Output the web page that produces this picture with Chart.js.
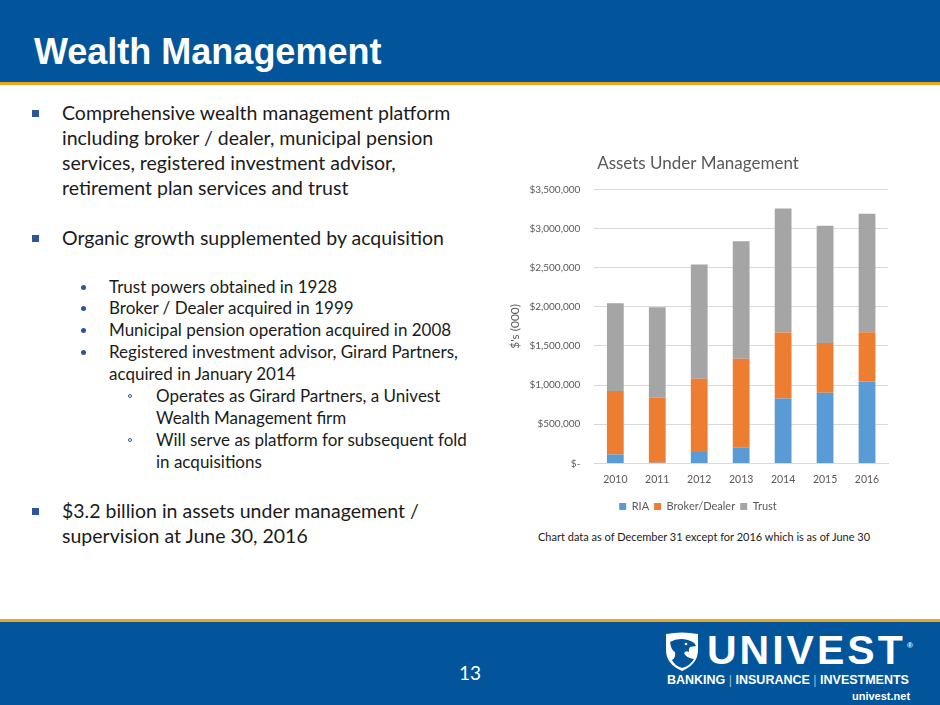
<!DOCTYPE html>
<html>
<head>
<meta charset="utf-8">
<script src="https://cdn.jsdelivr.net/npm/chart.js@4.4.1/dist/chart.umd.min.js"></script>
<style>
  html,body{margin:0;padding:0;}
  body{width:940px;height:705px;position:relative;overflow:hidden;background:#fff;font-family:Lato,"Open Sans",sans-serif;}
  .hdr{position:absolute;left:0;top:0;width:940px;height:82px;background:#02559A;}
  .hdrline{position:absolute;left:0;top:82px;width:940px;height:3px;background:#EBA81C;}
  .ftrline{position:absolute;left:0;top:619px;width:940px;height:3px;background:#EBA81C;}
  .ftr{position:absolute;left:0;top:622px;width:940px;height:83px;background:#02559A;}
  .title{position:absolute;left:34px;top:30px;color:#fff;font-family:"Liberation Sans",Arial,sans-serif;font-weight:bold;font-size:36px;line-height:44px;white-space:nowrap;}
  .ln{position:absolute;white-space:nowrap;color:#1b1b1b;}
  .l1{font-size:19.5px;line-height:26px;}
  .l2{font-size:17px;line-height:22px;}
  .sq{position:absolute;width:7px;height:7px;background:#2F5597;}
  .dot{position:absolute;width:5px;height:5px;border-radius:50%;background:#2F5597;}
  .cir{position:absolute;width:4px;height:4px;border-radius:50%;border:1px solid #2F5597;box-sizing:border-box;}
  .pg{position:absolute;left:450px;top:659px;width:40px;text-align:center;color:#fff;font-size:19px;line-height:28px;}
  .note{position:absolute;left:538px;top:529px;font-size:11px;line-height:16px;color:#1b1b1b;white-space:nowrap;}
  #wrap{position:absolute;left:505px;top:140px;width:390px;height:382px;}
  .logo{position:absolute;color:#fff;font-family:"Liberation Sans",Arial,sans-serif;font-weight:bold;white-space:nowrap;}
</style>
</head>
<body>
<div class="hdr"></div>
<div class="hdrline"></div>
<div class="title">Wealth Management</div>

<div id="body"></div>

<div id="wrap"><canvas id="c"></canvas></div>
<div class="note">Chart data as of December 31 except for 2016 which is as of June 30</div>

<div class="ftrline"></div>
<div class="ftr"></div>
<div class="pg">13</div>

<svg style="position:absolute;left:664px;top:632px" width="36" height="40" viewBox="0 0 36 40">
  <path d="M2 2 Q18 -1 34 2 L34 18 Q34 32 18 39 Q2 32 2 18 Z" fill="#fff"/>
  <path d="M6 10 Q14 5 24 8 Q31 10 32 14 L26 15 Q24 17 25 20 Q22 18 20 21 Q22 26 30 27 Q26 34 18 36 Q10 33 8 28 Q12 26 11 20 Q7 18 6 10 Z" fill="#02559A"/>
  <circle cx="22" cy="12" r="1.3" fill="#fff"/>
</svg>
<div class="logo" style="left:707px;top:627px;font-size:41px;line-height:46px;letter-spacing:3px;">UNIVEST</div>
<div class="logo" style="left:907px;top:641px;font-size:8px;line-height:10px;">®</div>
<div class="logo" style="left:667px;top:672px;font-size:12.5px;line-height:16px;">BANKING <span style="font-weight:normal;color:#9fb8d6">|</span> INSURANCE <span style="font-weight:normal;color:#9fb8d6">|</span> INVESTMENTS</div>
<div class="logo" style="left:852px;top:689px;font-size:11px;line-height:14px;">univest.net</div>

<script>
// ---- slide text ----
const level1 = [
  {y:113, t:"Comprehensive wealth management platform", b:true},
  {y:138, t:"including broker / dealer, municipal pension"},
  {y:163, t:"services, registered investment advisor,"},
  {y:188, t:"retirement plan services and trust"},
  {y:238, t:"Organic growth supplemented by acquisition", b:true},
  {y:511, t:"$3.2 billion in assets under management /", b:true},
  {y:536, t:"supervision at June 30, 2016"}
];
const level2 = [
  {y:287, t:"Trust powers obtained in 1928", b:true},
  {y:308, t:"Broker / Dealer acquired in 1999", b:true},
  {y:330, t:"Municipal pension operation acquired in 2008", b:true},
  {y:352, t:"Registered investment advisor, Girard Partners,", b:true},
  {y:374, t:"acquired in January 2014"}
];
const level3 = [
  {y:396, t:"Operates as Girard Partners, a Univest", b:true},
  {y:418, t:"Wealth Management firm"},
  {y:440, t:"Will serve as platform for subsequent fold", b:true},
  {y:462, t:"in acquisitions"}
];
const body = document.getElementById('body');
function addLine(item, x, cls, bx, bcls, bs){
  const d = document.createElement('div');
  d.className = 'ln ' + cls;
  d.textContent = item.t;
  const lh = cls==='l1'?26:22;
  d.style.left = x+'px'; d.style.top = (item.y - lh/2)+'px';
  body.appendChild(d);
  if(item.b){
    const b = document.createElement('div');
    b.className = bcls;
    b.style.left = (bx - bs/2)+'px'; b.style.top = (item.y - bs/2)+'px';
    body.appendChild(b);
  }
}
level1.forEach(it=>addLine(it, 62, 'l1', 35, 'sq', 7));
level2.forEach(it=>addLine(it, 109, 'l2', 83.5, 'dot', 5));
level3.forEach(it=>addLine(it, 156, 'l2', 130, 'cir', 4));

// ---- chart data ----
const years = ["2010","2011","2012","2013","2014","2015","2016"];
const ria = [115000, 8000, 145000, 200000, 830000, 904000, 1047000];
const brokerDealer = [809000, 832000, 937000, 1136000, 843000, 635000, 627000];
const trust = [1121000, 1155000, 1459000, 1502000, 1584000, 1498000, 1516000];
const yTicksMax = 3500000;
const yStep = 500000;

const gray = '#595959';
function makeChart(){
  new Chart(document.getElementById('c'), {
    type: 'bar',
    data: {
      labels: years,
      datasets: [
        {label:'RIA', data: ria, backgroundColor:'#5B9BD5'},
        {label:'Broker/Dealer', data: brokerDealer, backgroundColor:'#ED7D31'},
        {label:'Trust', data: trust, backgroundColor:'#A5A5A5'}
      ]
    },
    options: {
      responsive: true,
      maintainAspectRatio: false,
      animation: false,
      datasets: {bar: {categoryPercentage: 1.0, barPercentage: 0.4}},
      layout: {padding: {left: 3, right: 7, top: 0, bottom: 0}},
      plugins: {
        title: {display: true, text: 'Assets Under Management', color: gray,
                font: {family: 'Lato', size: 17, weight: 'normal'}, padding: {top: 13, bottom: 16}},
        legend: {position: 'bottom', labels: {color: gray, boxWidth: 7, boxHeight: 7, padding: 5,
                 font: {family: 'Lato', size: 11}}},
        tooltip: {enabled: false}
      },
      scales: {
        x: {stacked: true,
            grid: {display: false, drawTicks: false},
            border: {display: true, color: '#D9D9D9'},
            ticks: {color: gray, font: {family: 'Lato', size: 10.5}, padding: 10}},
        y: {stacked: true, min: 0, max: yTicksMax,
            grid: {color: '#D9D9D9', drawTicks: true, tickLength: 13, tickColor: 'rgba(0,0,0,0)'},
            border: {display: false},
            title: {display: true, text: "$'s (000)", color: gray, font: {family: 'Lato', size: 12}, padding: {top: 0, bottom: 6}},
            ticks: {stepSize: yStep, color: gray, padding: 1, font: {family: 'Lato', size: 10},
                    callback: v => v === 0 ? '$-' : '$' + v.toLocaleString('en-US')}}
      }
    }
  });
}
if (document.fonts && document.fonts.load) {
  Promise.all([
    document.fonts.load('10px Lato'),
    document.fonts.load('11px Lato'),
    document.fonts.load('17px Lato')
  ]).then(makeChart, makeChart);
} else {
  makeChart();
}
</script>
</body>
</html>
